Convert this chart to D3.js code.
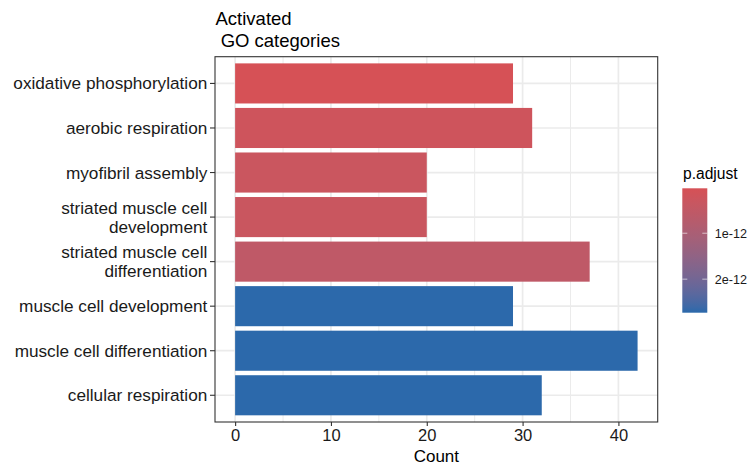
<!DOCTYPE html>
<html>
<head>
<meta charset="utf-8">
<script src="https://cdn.jsdelivr.net/npm/d3@7"></script>
<style>
  html, body { margin: 0; padding: 0; background: #fff; }
  svg { display: block; font-family: "Liberation Sans", Arial, sans-serif; }
</style>
</head>
<body>
<svg id="chart" width="750" height="464"></svg>
<script>
// GO terms, top to bottom
const categories = [
  ["oxidative phosphorylation"],
  ["aerobic respiration"],
  ["myofibril assembly"],
  ["striated muscle cell", "development"],
  ["striated muscle cell", "differentiation"],
  ["muscle cell development"],
  ["muscle cell differentiation"],
  ["cellular respiration"]
];
const counts = [29, 31, 20, 20, 37, 29, 42, 32];
const pAdjust = [2.2e-14, 0.2e-12, 0.3e-12, 0.32e-12, 0.55e-12, 2.72e-12, 2.72e-12, 2.72e-12];
const xTicks = [0, 10, 20, 30, 40];
const xMinorTicks = [5, 15, 25, 35];
const legendTicks = [1e-12, 2e-12];
const legendLabels = ["1e-12", "2e-12"];

const svg = d3.select("#chart");
const panel = { left: 215, right: 657.7, top: 56.7, bottom: 422 };
const keys = categories.map((c, i) => i);

const x = d3.scaleLinear().domain([-2.1, 44.1]).range([panel.left, panel.right]);
const y = d3.scaleBand().domain(keys).range([panel.top, panel.bottom])
  .paddingInner(0.1).paddingOuter(0.15);

const pMin = 2.2e-14, pMax = 2.73e-12;
const colorLow = "#d65156", colorHigh = "#2a69ab";
const color = d3.scaleLinear().domain([pMin, pMax]).range([colorLow, colorHigh])
  .interpolate(d3.interpolateLab).clamp(true);

// panel background + grid
svg.append("rect").attr("x", panel.left).attr("y", panel.top)
  .attr("width", panel.right - panel.left).attr("height", panel.bottom - panel.top)
  .attr("fill", "#fff");
const grid = svg.append("g");
grid.selectAll("line.minor").data(xMinorTicks).join("line")
  .attr("x1", d => x(d)).attr("x2", d => x(d))
  .attr("y1", panel.top).attr("y2", panel.bottom)
  .attr("stroke", "#ebebeb").attr("stroke-width", 1);
grid.selectAll("line.majx").data(xTicks).join("line")
  .attr("x1", d => x(d)).attr("x2", d => x(d))
  .attr("y1", panel.top).attr("y2", panel.bottom)
  .attr("stroke", "#ebebeb").attr("stroke-width", 1.7);
grid.selectAll("line.majy").data(keys).join("line")
  .attr("x1", panel.left).attr("x2", panel.right)
  .attr("y1", d => y(d) + y.bandwidth() / 2).attr("y2", d => y(d) + y.bandwidth() / 2)
  .attr("stroke", "#ebebeb").attr("stroke-width", 1.7);

// bars
svg.append("g").selectAll("rect").data(keys).join("rect")
  .attr("x", x(0))
  .attr("y", d => y(d))
  .attr("width", d => x(counts[d]) - x(0))
  .attr("height", y.bandwidth())
  .attr("fill", d => color(pAdjust[d]));

// panel border
svg.append("rect").attr("x", panel.left).attr("y", panel.top)
  .attr("width", panel.right - panel.left).attr("height", panel.bottom - panel.top)
  .attr("fill", "none").attr("stroke", "#333").attr("stroke-width", 1.1);

// x axis
const xAxis = svg.append("g").attr("transform", `translate(0,${panel.bottom})`)
  .call(d3.axisBottom(x).tickValues(xTicks).tickSize(4).tickPadding(3));
xAxis.select(".domain").remove();
xAxis.selectAll(".tick line").attr("stroke", "#333").attr("stroke-width", 1.1);
xAxis.selectAll(".tick text").attr("fill", "#1a1a1a")
  .style("font-size", "16.5px").style("font-family", "Liberation Sans, Arial, sans-serif");

svg.append("text").attr("x", x.range().reduce((a, b) => a + b) / 2).attr("y", 461.5)
  .attr("text-anchor", "middle").attr("fill", "#000").style("font-size", "17px")
  .text("Count");

// y axis
const yAxis = svg.append("g").attr("transform", `translate(${panel.left},0)`)
  .call(d3.axisLeft(y).tickSize(5).tickPadding(3).tickFormat(() => ""));
yAxis.select(".domain").remove();
yAxis.selectAll(".tick line").attr("stroke", "#333").attr("stroke-width", 1.1);
yAxis.selectAll(".tick").each(function (d) {
  const lines = categories[d];
  const t = d3.select(this).select("text")
    .attr("fill", "#1a1a1a").style("font-size", "17.2px")
    .style("font-family", "Liberation Sans, Arial, sans-serif")
    .attr("x", -7.7).attr("dy", null);
  const lh = 19;
  const y0 = -(lines.length - 1) * lh / 2 + 6;
  lines.forEach((s, i) => {
    t.append("tspan").attr("x", -7.7).attr("y", y0 + i * lh).text(s);
  });
});

// title
const title = svg.append("text").attr("x", 215.5).attr("y", 25)
  .attr("fill", "#000").style("font-size", "18.5px").attr("xml:space", "preserve");
title.append("tspan").attr("x", 215.5).attr("y", 25).text("Activated");
title.append("tspan").attr("x", 215.5).attr("y", 46.5).text(" GO categories");

// colour legend
const leg = { x: 682.3, top: 188.3, bottom: 312.7, w: 25 };
const ly = d3.scaleLinear().domain([pMin, pMax]).range([leg.top, leg.bottom]);
const defs = svg.append("defs");
const grad = defs.append("linearGradient").attr("id", "pgrad")
  .attr("x1", 0).attr("x2", 0).attr("y1", 0).attr("y2", 1);
d3.range(0, 1.0001, 0.05).forEach(f => {
  grad.append("stop").attr("offset", f)
    .attr("stop-color", color(pMin + f * (pMax - pMin)));
});
svg.append("text").attr("x", 683).attr("y", 178.5).attr("fill", "#000")
  .style("font-size", "15.6px").text("p.adjust");
svg.append("rect").attr("x", leg.x).attr("y", leg.top)
  .attr("width", leg.w).attr("height", leg.bottom - leg.top)
  .attr("fill", "url(#pgrad)");
const lt = svg.append("g");
legendTicks.forEach((v, i) => {
  const yy = ly(v);
  lt.append("line").attr("x1", leg.x).attr("x2", leg.x + 5).attr("y1", yy).attr("y2", yy)
    .attr("stroke", "#fff").attr("stroke-opacity", 0.6).attr("stroke-width", 1);
  lt.append("line").attr("x1", leg.x + leg.w - 5).attr("x2", leg.x + leg.w).attr("y1", yy).attr("y2", yy)
    .attr("stroke", "#fff").attr("stroke-opacity", 0.6).attr("stroke-width", 1);
  lt.append("text").attr("x", leg.x + leg.w + 7.5).attr("y", yy + 4.5)
    .attr("fill", "#1a1a1a").style("font-size", "12.6px").text(legendLabels[i]);
});
</script>
</body>
</html>
